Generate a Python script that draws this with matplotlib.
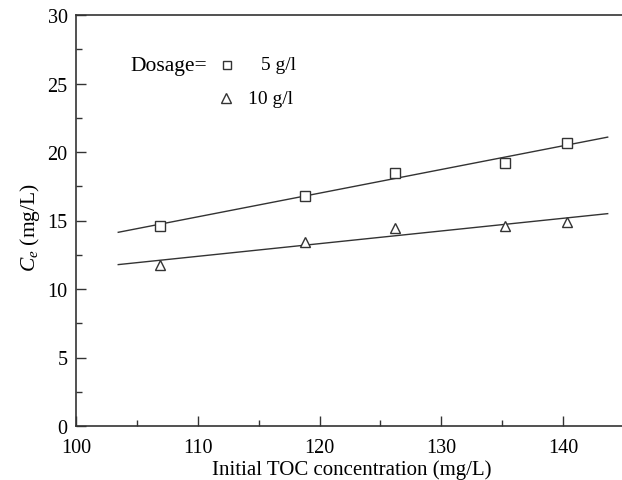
import numpy as np
import matplotlib.pyplot as plt

# initial TOC (mg/L) and equilibrium concentration Ce (mg/L)
toc = [106.9, 118.8, 126.2, 135.2, 140.35]
ce_5g = [14.62, 16.81, 18.45, 19.20, 20.64]
ce_10g = [11.72, 13.45, 14.43, 14.62, 14.87]
labels = ['5 g/l', '10 g/l']

plt.rcParams['font.family'] = ['Liberation Serif', 'DejaVu Serif']
plt.rcParams['mathtext.fontset'] = 'custom'
plt.rcParams['mathtext.it'] = 'Liberation Serif:italic'
plt.rcParams['mathtext.rm'] = 'Liberation Serif'

col = '#333333'
fig = plt.figure(figsize=(6.22, 4.81), dpi=100)
# axes run past the right edge of the picture, like the cropped original
ax = fig.add_axes([76 / 622, 54 / 481, 50 * 12.175 / 622, 411 / 481])

xfit = np.array([103.47, 143.67])
for y, m, ms in [(ce_5g, 's', 6.5), (ce_10g, '^', 7.5)]:
    k, b = np.polyfit(toc, y, 1)
    ax.plot(xfit, k * xfit + b, color=col, lw=1.0)
    ax.plot(toc, y, ls='none', marker=m, ms=ms, mfc='white', mec=col, mew=1.0)

ax.set_xlim(100, 150)
ax.set_ylim(0, 30)
ax.set_xticks([100, 110, 120, 130, 140])
ax.set_xticks([105, 115, 125, 135, 145], minor=True)
ax.set_yticks(range(0, 31, 5))
ax.set_yticks(np.arange(2.5, 30, 5), minor=True)
ax.tick_params(which='both', direction='in', colors=col, labelcolor='black',
               labelsize=14.5, width=1.0)
ax.tick_params(which='major', length=7)
ax.tick_params(which='minor', length=4)
ax.tick_params(axis='x', pad=9)
ax.tick_params(axis='y', pad=6)
for s in ax.spines.values():
    s.set_color(col)
    s.set_linewidth(1.2)

ax.set_xlabel('Initial TOC concentration (mg/L)', fontsize=15, labelpad=4)
fig.text(30 / 622, 1 - 228 / 481, r'$C_e$ (mg/L)', rotation=90, fontsize=15.5,
         ha='center', va='center')
ax.xaxis.set_label_coords((352 - 76) / (50 * 12.175), -0.08)

# legend drawn by hand
def px(xp, yp):
    return ((xp - 76) / (50 * 12.175), (427 - yp) / 411)

ax.text(*px(130, 66), 'Dosage=', fontsize=15.5, ha='left', va='center',
        transform=ax.transAxes)
ax.plot(*px(226.5, 66), marker='s', ms=5.5, mfc='white', mec=col, mew=1.0,
        transform=ax.transAxes, clip_on=False)
ax.plot(*px(226, 99), marker='^', ms=7.0, mfc='white', mec=col, mew=1.0,
        transform=ax.transAxes, clip_on=False)
ax.text(*px(296, 66), labels[0], fontsize=14, ha='right', va='center',
        transform=ax.transAxes)
ax.text(*px(293, 100), labels[1], fontsize=14, ha='right', va='center',
        transform=ax.transAxes)

fig.savefig('out.png', dpi=100)
